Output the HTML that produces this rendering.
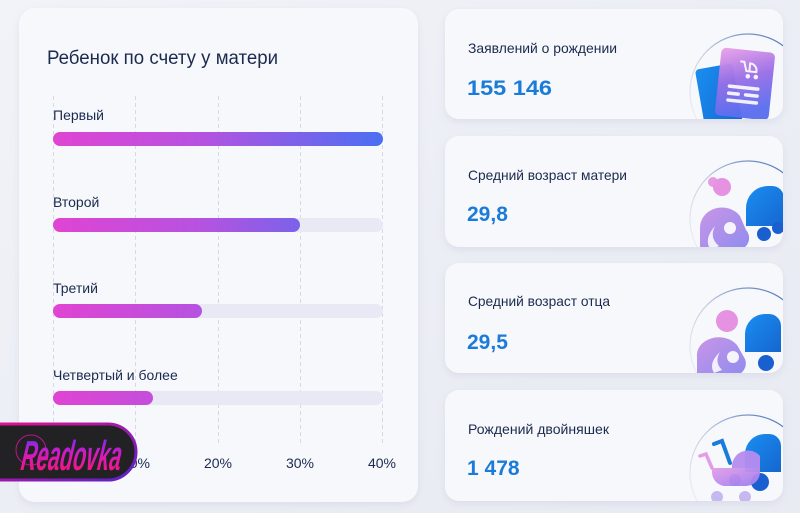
<!DOCTYPE html>
<html><head><meta charset="utf-8"><style>
html,body{margin:0;padding:0;background:#eceef5;}
svg{display:block;}
text{font-family:"Liberation Sans",sans-serif;}
</style></head><body>
<svg width="800" height="513" viewBox="0 0 800 513" xmlns="http://www.w3.org/2000/svg">
<defs>
  <linearGradient id="bg" x1="0" y1="0" x2="1" y2="1">
    <stop offset="0" stop-color="#f1f3f8"/><stop offset="0.5" stop-color="#eceef5"/><stop offset="1" stop-color="#e9ebf3"/>
  </linearGradient>
  <linearGradient id="bar" gradientUnits="userSpaceOnUse" x1="53" y1="0" x2="383" y2="0">
    <stop offset="0" stop-color="#e044d2"/><stop offset="0.45" stop-color="#b553e0"/><stop offset="1" stop-color="#4a6ff2"/>
  </linearGradient>
  <linearGradient id="arc" x1="0" y1="1" x2="1" y2="0">
    <stop offset="0" stop-color="#e6e8f0" stop-opacity="0.2"/><stop offset="0.5" stop-color="#c0c9de"/><stop offset="1" stop-color="#2d5fb0"/>
  </linearGradient>
  <linearGradient id="doc" x1="0" y1="0" x2="0.3" y2="1">
    <stop offset="0" stop-color="#eda2e8"/><stop offset="0.5" stop-color="#9a6fe6"/><stop offset="1" stop-color="#5a6ff0"/>
  </linearGradient>
  <linearGradient id="body" x1="0" y1="0" x2="1" y2="1">
    <stop offset="0" stop-color="#c690e6"/><stop offset="1" stop-color="#8a86ee"/>
  </linearGradient>
  <linearGradient id="blue" x1="0" y1="0" x2="1" y2="1">
    <stop offset="0" stop-color="#1a8ef0"/><stop offset="1" stop-color="#1566d0"/>
  </linearGradient>
  <linearGradient id="pinkstroller" x1="0" y1="0" x2="1" y2="1">
    <stop offset="0" stop-color="#e49ce8"/><stop offset="1" stop-color="#9a7ef0"/>
  </linearGradient>
  <linearGradient id="wmb" x1="0" y1="0" x2="1" y2="1">
    <stop offset="0" stop-color="#e0128c"/><stop offset="1" stop-color="#5a22c8"/>
  </linearGradient>
  <linearGradient id="wmt" x1="0" y1="0" x2="0" y2="1">
    <stop offset="0" stop-color="#5a30ff"/><stop offset="0.45" stop-color="#d01cc0"/><stop offset="1" stop-color="#ff1468"/>
  </linearGradient>
  <filter id="sh" x="-10%" y="-10%" width="120%" height="130%">
    <feDropShadow dx="0" dy="3" stdDeviation="4" flood-color="#aab0c8" flood-opacity="0.25"/>
  </filter>
  <clipPath id="c1"><rect x="445" y="9" width="338" height="110" rx="14"/></clipPath>
  <clipPath id="c2"><rect x="445" y="136" width="338" height="111" rx="14"/></clipPath>
  <clipPath id="c3"><rect x="445" y="263" width="338" height="110" rx="14"/></clipPath>
  <clipPath id="c4"><rect x="445" y="390" width="338" height="111" rx="14"/></clipPath>
</defs>

<rect width="800" height="513" fill="url(#bg)"/>

<!-- Left card -->
<rect x="19" y="8" width="399" height="494" rx="16" fill="#f7f8fc" filter="url(#sh)"/>
<text x="47" y="64" font-size="19" fill="#1b2a4e" textLength="231" lengthAdjust="spacingAndGlyphs">Ребенок по счету у матери</text>

<g stroke="#d6d9e2" stroke-width="1" stroke-dasharray="4 3">
  <line x1="53.5" y1="96" x2="53.5" y2="444"/>
  <line x1="135.5" y1="96" x2="135.5" y2="444"/>
  <line x1="218.5" y1="96" x2="218.5" y2="444"/>
  <line x1="300.5" y1="96" x2="300.5" y2="444"/>
  <line x1="382.5" y1="96" x2="382.5" y2="444"/>
</g>

<g font-size="14" fill="#1b2a4e">
  <text x="53" y="120">Первый</text>
  <text x="53" y="207">Второй</text>
  <text x="53" y="293">Третий</text>
  <text x="53" y="380">Четвертый и более</text>
</g>

<g>
  <rect x="53" y="132" width="330" height="14" rx="7" fill="#e8e9f5"/>
  <rect x="53" y="132" width="330" height="14" rx="7" fill="url(#bar)"/>
  <rect x="53" y="218" width="330" height="14" rx="7" fill="#e8e9f5"/>
  <rect x="53" y="218" width="247" height="14" rx="7" fill="url(#bar)"/>
  <rect x="53" y="304" width="330" height="14" rx="7" fill="#e8e9f5"/>
  <rect x="53" y="304" width="149" height="14" rx="7" fill="url(#bar)"/>
  <rect x="53" y="391" width="330" height="14" rx="7" fill="#e8e9f5"/>
  <rect x="53" y="391" width="100" height="14" rx="7" fill="url(#bar)"/>
</g>

<g font-size="14" fill="#1b2a4e" text-anchor="middle">
  <text x="53" y="468">0%</text>
  <text x="136" y="468">10%</text>
  <text x="218" y="468">20%</text>
  <text x="300" y="468">30%</text>
  <text x="382" y="468">40%</text>
</g>

<!-- Right cards -->
<rect x="445" y="9" width="338" height="110" rx="14" fill="#f7f8fc" filter="url(#sh)"/>
<rect x="445" y="136" width="338" height="111" rx="14" fill="#f7f8fc" filter="url(#sh)"/>
<rect x="445" y="263" width="338" height="110" rx="14" fill="#f7f8fc" filter="url(#sh)"/>
<rect x="445" y="390" width="338" height="111" rx="14" fill="#f7f8fc" filter="url(#sh)"/>

<g font-size="14" fill="#1b2a4e">
  <text x="468" y="53" textLength="149" lengthAdjust="spacingAndGlyphs">Заявлений о рождении</text>
  <text x="468" y="180" textLength="159" lengthAdjust="spacingAndGlyphs">Средний возраст матери</text>
  <text x="468" y="306" textLength="142" lengthAdjust="spacingAndGlyphs">Средний возраст отца</text>
  <text x="468" y="434" textLength="141" lengthAdjust="spacingAndGlyphs">Рождений двойняшек</text>
</g>
<g font-size="21" font-weight="bold" fill="#1a7bd9">
  <text x="467" y="95" textLength="85" lengthAdjust="spacingAndGlyphs">155 146</text>
  <text x="467" y="221">29,8</text>
  <text x="467" y="349">29,5</text>
  <text x="467" y="475">1 478</text>
</g>

<!-- Icon 1: documents -->
<g clip-path="url(#c1)">
  <circle cx="748" cy="92" r="58" fill="none" stroke="url(#arc)" stroke-width="1.2"/>
  <rect x="700" y="66" width="38" height="62" rx="4" fill="url(#blue)" transform="rotate(-10 719 97)"/>
  <rect x="718" y="50" width="54" height="68" rx="5" fill="url(#doc)" opacity="0.96" transform="rotate(6 745 84)"/>
  <g fill="#ffffff" opacity="0.9" transform="rotate(6 745 84)">
    <path d="M738 62 h4 l3 9 h10 a7 7 0 0 0 -7 -8 v8" fill="none" stroke="#fff" stroke-width="2"/>
    <circle cx="747" cy="76" r="2.3"/><circle cx="755" cy="76" r="2.3"/>
    <rect x="728" y="86" width="32" height="3.5" rx="1.7"/>
    <rect x="728" y="93" width="13" height="3.5" rx="1.7"/><rect x="745" y="93" width="15" height="3.5" rx="1.7"/>
    <rect x="728" y="100" width="32" height="3.5" rx="1.7"/>
  </g>
</g>

<!-- Icon 2: mother -->
<g clip-path="url(#c2)">
  <circle cx="748" cy="219" r="58" fill="none" stroke="url(#arc)" stroke-width="1.2"/>
  <path d="M746 226 v-18 a22 22 0 0 1 22 -22 h4 a12 12 0 0 1 12 12 v28 z" fill="url(#blue)"/>
  <circle cx="764" cy="234" r="7" fill="#1a5fcf"/>
  <circle cx="778" cy="228" r="6" fill="#1a5fcf"/>
  <circle cx="713" cy="182" r="5" fill="#e79ae4"/>
  <circle cx="722" cy="187" r="9" fill="#e592e2"/>
  <path d="M700 250 v-22 a22 20 0 0 1 40 -12 l6 14 a12 12 0 0 1 -8 20 z" fill="url(#body)" opacity="0.95"/>
  <circle cx="730" cy="228" r="6" fill="#ffffff" opacity="0.9"/>
  <path d="M715 226 q-6 12 4 20 l-8 4 q-8 -10 4 -24z" fill="#fff" opacity="0.85"/>
</g>

<!-- Icon 3: father -->
<g clip-path="url(#c3)">
  <circle cx="748" cy="346" r="58" fill="none" stroke="url(#arc)" stroke-width="1.2"/>
  <path d="M745 352 v-18 a20 20 0 0 1 20 -20 h4 a12 12 0 0 1 12 12 v26 z" fill="url(#blue)"/>
  <circle cx="766" cy="363" r="8" fill="#1a5fcf"/>
  <circle cx="727" cy="321" r="11" fill="#e592e2"/>
  <path d="M697 373 v-16 a22 18 0 0 1 40 -12 l8 14 a12 12 0 0 1 -8 16 z" fill="url(#body)" opacity="0.95"/>
  <circle cx="733" cy="357" r="6" fill="#ffffff" opacity="0.9"/>
  <path d="M720 352 q-6 10 2 18 l-8 3 q-6 -10 6 -21z" fill="#fff" opacity="0.85"/>
</g>

<!-- Icon 4: strollers -->
<g clip-path="url(#c4)">
  <circle cx="748" cy="473" r="58" fill="none" stroke="url(#arc)" stroke-width="1.2"/>
  <path d="M745 472 v-18 a20 20 0 0 1 20 -20 h4 a12 12 0 0 1 12 12 v26 z" fill="url(#blue)"/>
  <path d="M714 444 l8 -3 l8 22" fill="none" stroke="#1a7bd9" stroke-width="4" stroke-linecap="round"/>
  <circle cx="760" cy="482" r="9" fill="#1a5fcf"/>
  <circle cx="735" cy="480" r="6" fill="#1a5fcf"/>
  <path d="M700 456 l6 -2 l6 14" fill="none" stroke="#e49ce8" stroke-width="3.5" stroke-linecap="round"/>
  <path d="M712 468 h48 v4 a14 14 0 0 1 -14 14 h-22 a14 14 0 0 1 -12 -14 z" fill="url(#pinkstroller)" opacity="0.95"/>
  <path d="M732 468 a16 16 0 0 1 28 -12 v12 z" fill="#b58cef" opacity="0.95"/>
  <circle cx="717" cy="497" r="6" fill="#c0b0f0" opacity="0.9"/>
  <circle cx="745" cy="497" r="6" fill="#c0b0f0" opacity="0.9"/>
</g>

<!-- Watermark badge -->
<path d="M-4 424 H108 A28 28 0 0 1 108 480 H-4 Z" fill="#222224" stroke="url(#wmb)" stroke-width="3"/>
<circle cx="31" cy="450" r="15" fill="none" stroke="#c0148a" stroke-width="1"/>
<text x="20" y="470" font-size="42" font-weight="bold" font-style="italic" fill="url(#wmt)" textLength="100" lengthAdjust="spacingAndGlyphs" transform="skewX(-8) translate(66 0)">Readovka</text>
</svg>
</body></html>
